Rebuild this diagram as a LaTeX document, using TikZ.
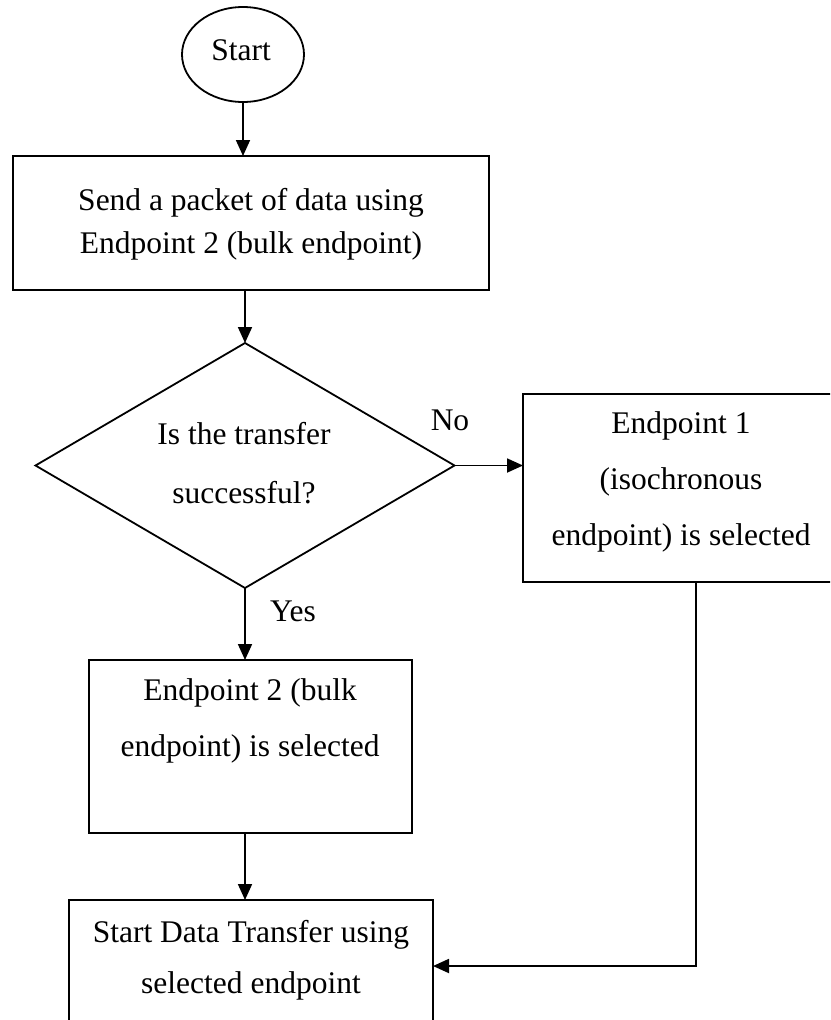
\documentclass[tikz,border=0pt]{standalone}
\usepackage{fontspec}
\setmainfont{Liberation Serif}
\usetikzlibrary{shapes.geometric,arrows.meta}

\tikzset{
  stroke/.style={draw=black, line width=1.8pt},
  procbox/.style={stroke, rectangle, inner sep=0pt, outer sep=0pt},
  decision/.style={stroke, diamond, inner sep=0pt, outer sep=0pt},
  terminal/.style={stroke, ellipse, inner sep=0pt, outer sep=0pt},
  arr/.style={draw=black, line width=1.8pt, -{Triangle[length=16pt,width=14pt]}},
  txt/.style={anchor=base, inner sep=0pt, font=\fontsize{31.5}{38}\selectfont}
}

\begin{document}
\begin{tikzpicture}[x=1pt,y=-1pt]
  \useasboundingbox (0,0) rectangle (830,1020);
  \begin{scope}
  \clip (0,0) rectangle (830,1020);

  % shapes of the flow chart
  \node[terminal, minimum width=122pt, minimum height=95pt] (start) at (243,54.5) {};
  \node[procbox, minimum width=476pt, minimum height=134pt] (send) at (251,223) {};
  \node[decision, minimum width=419pt, minimum height=245pt] (check) at (245,465.5) {};
  \node[procbox, minimum width=316pt, minimum height=188pt] (iso) at (681,488) {};
  \node[procbox, minimum width=323pt, minimum height=173pt] (bulk) at (250.5,746.5) {};
  \node[procbox, minimum width=364pt, minimum height=180pt] (xfer) at (251,990) {};

  % texts
  \node[txt] (tstart) at (241,60) {Start};
  \node[txt] (tsend1) at (251,210) {Send a packet of data using};
  \node[txt] (tsend2) at (251,253) {Endpoint 2 (bulk endpoint)};
  \node[txt] (tcheck1) at (244,444) {Is the transfer};
  \node[txt] (tcheck2) at (244,503) {successful?};
  \node[txt] (tiso1) at (681,433) {Endpoint 1};
  \node[txt] (tiso2) at (681,489) {(isochronous};
  \node[txt] (tiso3) at (681,545) {endpoint) is selected};
  \node[txt] (tbulk1) at (250,700) {Endpoint 2 (bulk};
  \node[txt] (tbulk2) at (250,756) {endpoint) is selected};
  \node[txt] (txfer1) at (251,942) {Start Data Transfer using};
  \node[txt] (txfer2) at (251,993) {selected endpoint};
  \node[txt] (lno) at (450,430) {No};
  \node[txt] (lyes) at (293,621) {Yes};

  % connectors
  \coordinate (turn) at (696,966);
  \draw[arr] (start.south) -- (start.south |- send.north);
  \draw[arr] (check.north |- send.south) -- (check.north);
  \draw[arr] (check.east) -- (check.east -| iso.west);
  \draw[arr] (check.south) -- (check.south |- bulk.north);
  \draw[arr] (check.south |- bulk.south) -- (check.south |- xfer.north);
  \draw[arr] (iso.south -| turn) -- (turn) -- (turn -| xfer.east);
  \end{scope}
\end{tikzpicture}
\end{document}
